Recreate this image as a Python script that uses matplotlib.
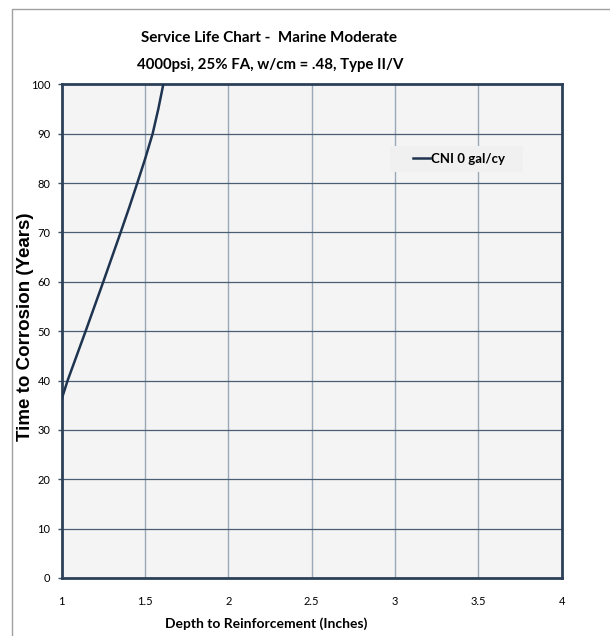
import matplotlib
matplotlib.use('Agg')
import matplotlib.pyplot as plt
from matplotlib.patches import Rectangle

# Service life curve
depth = [1.0, 1.036, 1.144, 1.25, 1.354, 1.405, 1.454, 1.5, 1.546, 1.58, 1.61]
years = [36.2, 40, 50, 60, 70, 75, 80, 84.8, 90, 95, 100]
series_name = 'CNI 0 gal/cy'

x_ticks = [1, 1.5, 2, 2.5, 3, 3.5, 4]
x_ticklabels = ['1', '1.5', '2', '2.5', '3', '3.5', '4']
y_ticks = list(range(0, 101, 10))

narrow = ['Lato', 'DejaVu Sans']

fig = plt.figure(figsize=(6.1, 6.36), dpi=100)
# outer chart frame
fig.patches.append(Rectangle((12 / 610, -0.05), 1.2, 1 - 9 / 636 + 0.05, transform=fig.transFigure,
                             fill=False, edgecolor='#a0a0a0', linewidth=1.0))

ax = fig.add_axes([0.101, 0.0912, 0.820, 0.7763])
ax.set_facecolor('#f4f4f4')
ax.plot(depth, years, color='#1f3450', linewidth=1.8, label=series_name, zorder=3)

ax.set_xlim(1, 4)
ax.set_ylim(0, 100)
ax.set_xticks(x_ticks)
ax.set_xticklabels(x_ticklabels, family=narrow, fontsize=8)
ax.set_yticks(y_ticks)
ax.set_yticklabels([str(v) for v in y_ticks], family=narrow, fontsize=8)
ax.tick_params(axis='x', length=0, pad=13)
ax.tick_params(axis='y', length=3, width=1, color='#3c5068', pad=5)

for v in x_ticks[1:-1]:
    ax.axvline(v, color='#9aa8b8', linewidth=1.0, zorder=1)
for v in y_ticks[1:-1]:
    ax.axhline(v, color='#4a5d75', linewidth=0.9, zorder=1)

for s in ax.spines.values():
    s.set_color('#2c4058')
    s.set_linewidth(2.0)

fig.text(0.441, 0.941, 'Service Life Chart -  Marine Moderate', ha='center', va='center',
         family=narrow, fontweight='bold', fontsize=11)
fig.text(0.443, 0.898, '4000psi, 25% FA, w/cm = .48, Type II/V', ha='center', va='center',
         family=narrow, fontweight='bold', fontsize=10.8)
fig.text(0.437, 0.020, 'Depth to Reinforcement (Inches)', ha='center', va='center',
         family=narrow, fontweight='bold', fontsize=10)
fig.text(0.041, 0.486, 'Time to Corrosion (Years)', rotation=90, ha='center', va='center',
         family=['Liberation Sans', 'DejaVu Sans'], fontweight='bold', fontsize=13.5)

# legend box drawn separately so its padding matches the original
ax.add_patch(Rectangle((0.656, 0.823), 0.266, 0.051, transform=ax.transAxes,
                       facecolor='#f0f0f0', edgecolor='none', zorder=4))
leg = ax.legend(loc='center left', bbox_to_anchor=(0.702, 0.849), frameon=False,
                prop={'family': narrow, 'weight': 'bold', 'size': 9.5}, handlelength=1.3,
                handletextpad=0.05, borderpad=0, borderaxespad=0)
leg.set_zorder(5)

fig.savefig('out.png', dpi=100)
